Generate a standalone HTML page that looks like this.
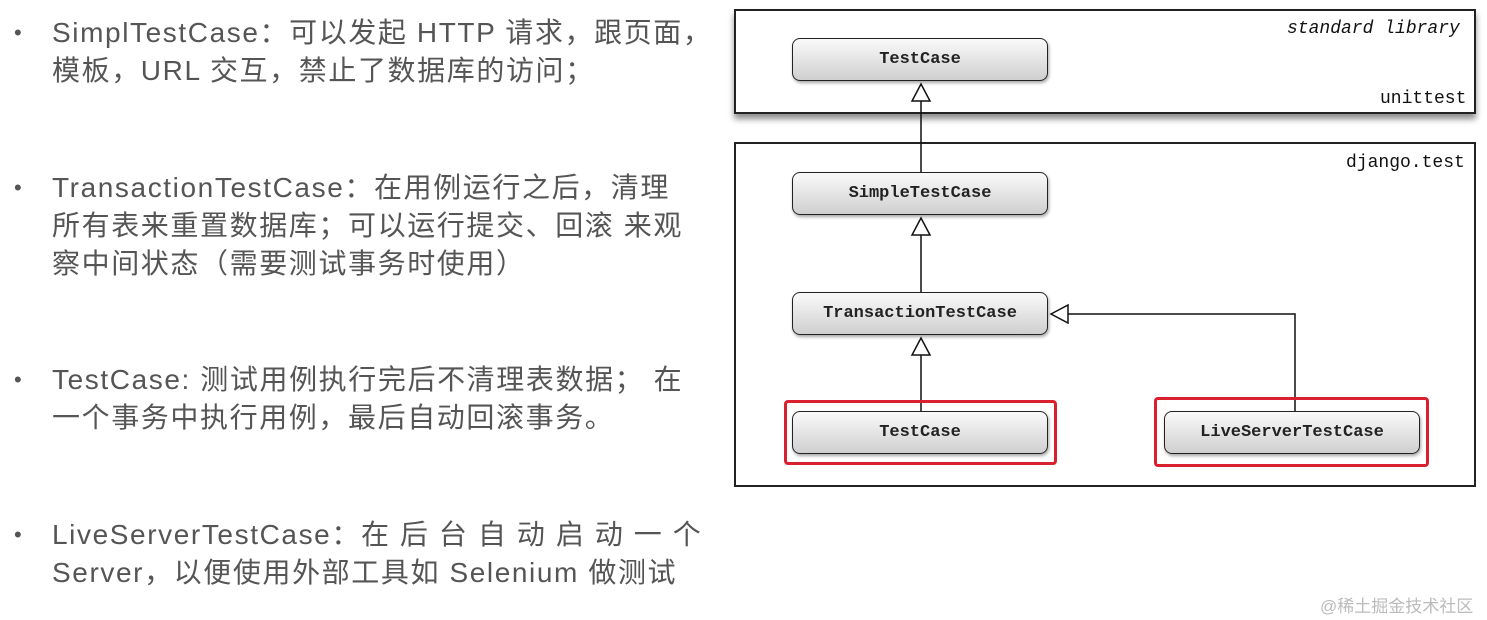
<!DOCTYPE html>
<html><head><meta charset="utf-8"><style>
body{margin:0;width:1487px;height:620px;background:#fff;position:relative;overflow:hidden;font-family:"Liberation Sans","Noto Sans CJK SC",sans-serif;}
.t{position:absolute;left:52px;font-size:28px;color:#555;line-height:38px;white-space:nowrap;letter-spacing:1.6px;}
.b{position:absolute;left:14px;font-size:22px;color:#555;}
.box{position:absolute;border:2px solid #222;background:#fff;}
.node{position:absolute;width:256px;height:43px;border:1.5px solid #222;border-radius:8px;background:linear-gradient(#fafafa,#cfcfcf);box-sizing:border-box;font-family:"Liberation Mono",monospace;font-weight:bold;font-size:17px;color:#222;text-align:center;line-height:41px;box-shadow:1px 2px 3px rgba(0,0,0,.35);}
.red{position:absolute;border:3px solid #d9202e;border-radius:4px;box-sizing:border-box;}
.lbl{position:absolute;font-family:"Liberation Mono",monospace;font-size:17px;color:#111;}
</style></head><body>
<div class="b" style="top:20px">•</div>
<div class="t" style="top:14px">SimplTestCase：可以发起 HTTP 请求，跟页面，<br>模板，URL 交互，禁止了数据库的访问；</div>
<div class="b" style="top:175px">•</div>
<div class="t" style="top:169px">TransactionTestCase：在用例运行之后，清理<br>所有表来重置数据库；可以运行提交、回滚 来观<br>察中间状态（需要测试事务时使用）</div>
<div class="b" style="top:367px">•</div>
<div class="t" style="top:361px">TestCase: 测试用例执行完后不清理表数据； 在<br>一个事务中执行用例，最后自动回滚事务。</div>
<div class="b" style="top:522px">•</div>
<div class="t" style="top:516px">LiveServerTestCase：在 后 台 自 动 启 动 一 个<br>Server，以便使用外部工具如 Selenium 做测试</div>
<div style="position:absolute;left:1320px;top:592px;font-size:17px;color:#bbb;">@稀土掘金技术社区</div>

<div class="box" style="left:734px;top:9px;width:738px;height:101px;box-shadow:0 5px 6px rgba(0,0,0,.45)"></div>
<div class="box" style="left:734px;top:142px;width:738px;height:341px"></div>
<div class="lbl" style="left:1287px;top:19px;font-style:italic;font-size:18px">standard library</div>
<div class="lbl" style="left:1380px;top:89px;font-size:18px">unittest</div>
<div class="lbl" style="left:1346px;top:153px;font-size:18px">django.test</div>

<svg width="1487" height="620" style="position:absolute;left:0;top:0">
<g stroke="#111" stroke-width="1.5" fill="#fff">
<line x1="921" y1="100" x2="921" y2="172"/>
<polygon points="921,84 912,101 930,101"/>
<line x1="921" y1="234" x2="921" y2="292"/>
<polygon points="921,218 912,235 930,235"/>
<line x1="921" y1="354" x2="921" y2="411"/>
<polygon points="921,338 912,355 930,355"/>
<polyline points="1295,411 1295,314 1067,314" fill="none"/>
<polygon points="1051,314 1068,305 1068,323"/>
</g></svg>

<div class="node" style="left:792px;top:38px">TestCase</div>
<div class="node" style="left:792px;top:172px">SimpleTestCase</div>
<div class="node" style="left:792px;top:292px">TransactionTestCase</div>
<div class="node" style="left:792px;top:411px">TestCase</div>
<div class="node" style="left:1164px;top:411px">LiveServerTestCase</div>
<div class="red" style="left:784px;top:400px;width:273px;height:65px"></div>
<div class="red" style="left:1154px;top:397px;width:275px;height:70px"></div>
</body></html>
